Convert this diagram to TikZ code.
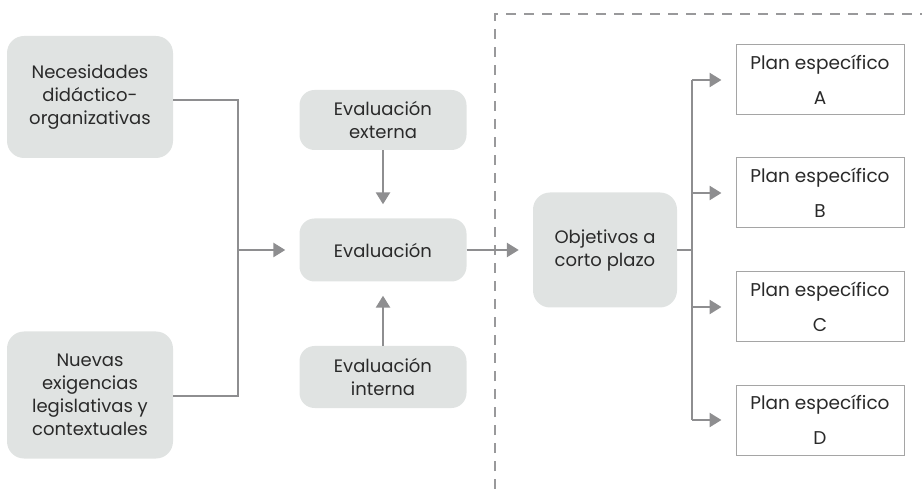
\documentclass[tikz,border=0pt]{standalone}
\usepackage{fontspec}
\setmainfont{Poppins}
\usetikzlibrary{arrows.meta}
\definecolor{boxgray}{HTML}{E0E3E2}
\definecolor{linegray}{HTML}{8E8E90}
\definecolor{txt}{HTML}{2A2A2A}
\definecolor{framegray}{HTML}{A5A5A5}
\tikzset{
  softbox/.style={fill=boxgray, draw=none, rounded corners=17pt, align=center,
    text=txt, font=\fontsize{18}{23}\selectfont, inner sep=0pt},
  planbox/.style={draw=framegray, line width=1pt, fill=white, align=center,
    text=txt, font=\fontsize{18.5}{35}\selectfont, minimum width=168pt,
    minimum height=70pt, inner sep=0pt},
  link/.style={draw=linegray, line width=2.6pt},
  arrowlink/.style={link, -{Triangle[length=12pt,width=14pt]}, shorten >=14pt},
  border/.style={draw=linegray!90, line width=2.2pt, dash pattern=on 10pt off 8pt},
}
\begin{document}
\begin{tikzpicture}[x=1pt,y=-1pt]
  \useasboundingbox (0,0) rectangle (922,489);

  % left-hand sources
  \node[softbox, minimum width=166pt, minimum height=122pt] (nec) at (90,97)
    {Necesidades\\didáctico-\\organizativas};
  \node[softbox, minimum width=166pt, minimum height=127pt] (nue) at (90,395)
    {Nuevas\\exigencias\\legislativas y\\contextuales};

  % evaluation column
  \node[softbox, minimum width=167pt, minimum height=60pt, rounded corners=15pt] (ext) at (383,120)
    {Evaluación\\externa};
  \node[softbox, minimum width=167pt, minimum height=63pt, rounded corners=15pt] (eva) at (383,250)
    {Evaluación};
  \node[softbox, minimum width=167pt, minimum height=62pt, rounded corners=15pt] (int) at (383,377)
    {Evaluación\\interna};

  % short-term objectives and plans
  \node[softbox, minimum width=144pt, minimum height=115pt] (obj) at (605,250)
    {Objetivos a\\corto plazo};
  \node[planbox] (pa) at (820,80)  {Plan específico\\A};
  \node[planbox] (pb) at (820,193) {Plan específico\\B};
  \node[planbox] (pc) at (820,307) {Plan específico\\C};
  \node[planbox] (pd) at (820,420) {Plan específico\\D};

  % dashed frame around the planning area
  \coordinate (fb) at (495,489);
  \coordinate (fc) at (495,14);
  \coordinate (fr) at (922,14);
  \draw[border] (fb) -- (fc) -- (fr);

  % joining the two sources
  \coordinate (jn) at (238,250);
  \draw[link] (nec.east |- 0,100) -| (jn) |- (nue.east |- 0,396);
  \draw[arrowlink] (jn) -- (eva.west);

  % evaluation inputs and output
  \draw[arrowlink] (ext) -- (eva);
  \draw[arrowlink] (int) -- (eva);
  \draw[arrowlink] (eva) -- (obj);

  % branching to the specific plans
  \coordinate (br) at (692,250);
  \draw[link] (obj.east) -- (br);
  \draw[link] (br |- pa) -- (br |- pd);
  \foreach \p in {pa,pb,pc,pd}
    \draw[arrowlink] (br |- \p) -- (\p.west);
\end{tikzpicture}
\end{document}
